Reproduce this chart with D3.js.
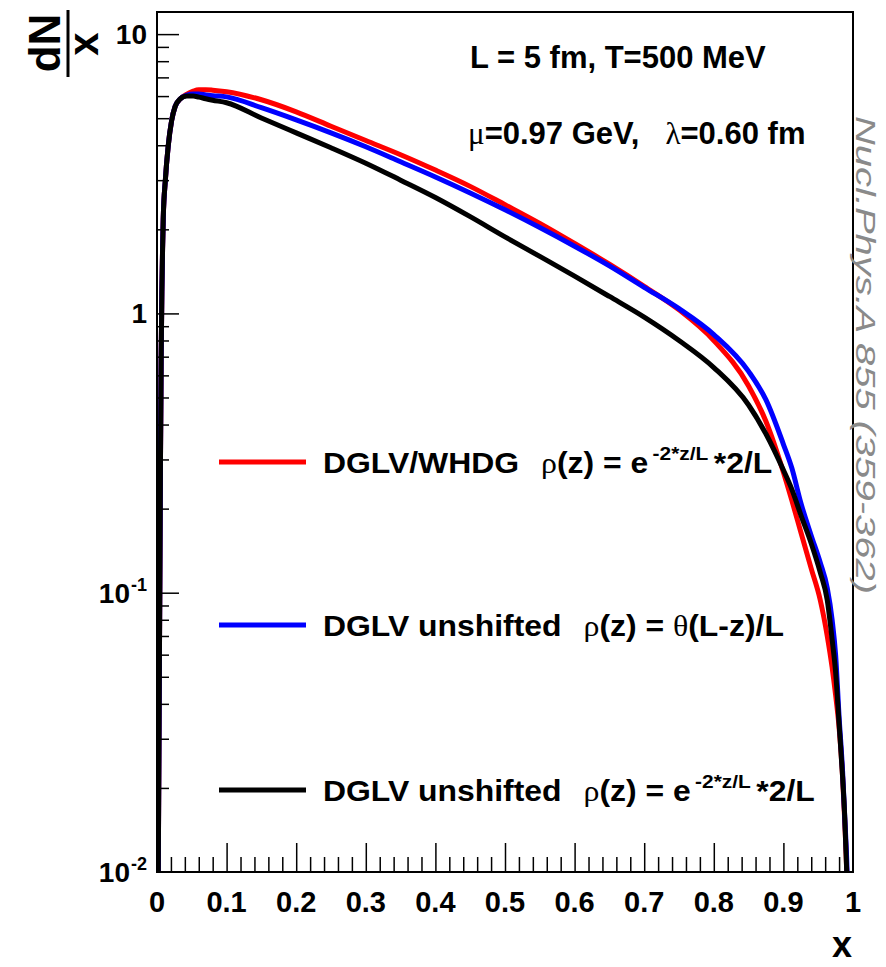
<!DOCTYPE html>
<html>
<head>
<meta charset="utf-8">
<script src="https://cdn.jsdelivr.net/npm/d3@7"></script>
<style>
  body { margin: 0; background: #fff; }
  svg { display: block; }
  text { font-family: "Liberation Sans", Arial, sans-serif; }
</style>
</head>
<body>
<div id="chart"></div>
<script>
// x grid shared by the three histograms
const xGrid = [0.001, 0.002, 0.003, 0.004, 0.005, 0.006, 0.007, 0.008, 0.009, 0.012, 0.016, 0.021, 0.026, 0.033,
  0.043, 0.052, 0.06, 0.07, 0.08, 0.1, 0.15, 0.2, 0.25, 0.3, 0.35, 0.4, 0.45, 0.5, 0.55, 0.6, 0.65, 0.7, 0.75,
  0.8, 0.85, 0.875, 0.9, 0.912, 0.925, 0.94, 0.953, 0.963, 0.97, 0.975, 0.98, 0.985, 0.988, 0.991, 0.994];

// DGLV/WHDG  rho(z) = exp(-2z/L)*2/L
const redValues = [0.004, 0.012, 0.035, 0.1, 0.3, 0.7, 1.2, 1.7, 2.2, 3.0, 3.95, 4.9, 5.5, 5.85,
  6.1, 6.25, 6.32, 6.32, 6.3, 6.22, 5.82, 5.27, 4.68, 4.16, 3.7, 3.26, 2.85, 2.45, 2.1, 1.78, 1.5, 1.25, 1.03,
  0.8, 0.55, 0.41, 0.27, 0.2145, 0.165, 0.122, 0.094, 0.07, 0.054, 0.043, 0.033, 0.022, 0.0155, 0.01, 0.005];

// DGLV unshifted  rho(z) = theta(L-z)/L
const blueValues = [0.004, 0.012, 0.035, 0.1, 0.3, 0.7, 1.2, 1.7, 2.2, 3.0, 3.95, 4.9, 5.5, 5.85,
  6.05, 6.1, 6.1, 6.06, 6.02, 5.96, 5.45, 4.93, 4.43, 3.95, 3.49, 3.08, 2.7, 2.35, 2.03, 1.74, 1.48, 1.24, 1.04,
  0.84, 0.62, 0.49, 0.34, 0.28, 0.21, 0.16, 0.128, 0.104, 0.08, 0.06, 0.036, 0.023, 0.016, 0.011, 0.006];

// DGLV unshifted  rho(z) = exp(-2z/L)*2/L
const blackValues = [0.004, 0.012, 0.035, 0.1, 0.3, 0.7, 1.2, 1.7, 2.2, 3.0, 3.95, 4.9, 5.5, 5.85,
  6.0, 6.0, 5.95, 5.87, 5.8, 5.68, 5.01, 4.43, 3.92, 3.45, 3.0, 2.6, 2.22, 1.88, 1.6, 1.36, 1.15, 0.97, 0.8,
  0.64, 0.47, 0.37, 0.275, 0.235, 0.19, 0.15, 0.118, 0.094, 0.068, 0.052, 0.034, 0.022, 0.016, 0.01, 0.005];

const seriesColors = ['#ff0000', '#0000ff', '#000000'];
const xTickValues = [0, 0.1, 0.2, 0.3, 0.4, 0.5, 0.6, 0.7, 0.8, 0.9, 1];
const xTickLabels = ['0', '0.1', '0.2', '0.3', '0.4', '0.5', '0.6', '0.7', '0.8', '0.9', '1'];
const yTickValues = [0.01, 0.1, 1, 10];
const yTickLabels = [['10', '-2'], ['10', '-1'], ['1', ''], ['10', '']];

// legend: pieces of each label (b = bold text, s = symbol, sup = superscript)
const legendLabels = [
  [['b', 'DGLV/WHDG'], ['s', 'ρ', 20], ['b', '(z) = e'], ['sup', '-2*z/L'], ['b', '*2/L']],
  [['b', 'DGLV unshifted'], ['s', 'ρ', 20], ['b', '(z) = '], ['s', 'θ'], ['b', '(L-z)/L']],
  [['b', 'DGLV unshifted'], ['s', 'ρ', 20], ['b', '(z) = e'], ['sup', '-2*z/L'], ['b', '*2/L']]
];

const W = 886, H = 967;
const svg = d3.select('#chart').append('svg')
  .attr('width', W)
  .attr('height', H);

const x = d3.scaleLinear().domain([0, 1]).range([157, 853]);
const y = d3.scaleLog().domain([0.01, 12]).range([872, 12]);

// clip for the curves
svg.append('defs').append('clipPath').attr('id', 'frame-clip')
  .append('rect')
  .attr('x', x(0)).attr('y', y(12))
  .attr('width', x(1) - x(0)).attr('height', y(0.01) - y(12));

// Courbes
const line = d3.line()
  .x(d => x(d[0]))
  .y(d => y(d[1]))
  .curve(d3.curveMonotoneX);

const curves = svg.append('g').attr('clip-path', 'url(#frame-clip)');
[redValues, blueValues, blackValues].forEach((vals, i) => {
  curves.append('path')
    .datum(xGrid.map((xv, j) => [xv, vals[j]]))
    .attr('d', line)
    .attr('fill', 'none')
    .attr('stroke', seriesColors[i])
    .attr('stroke-width', 5)
    .attr('stroke-linejoin', 'round');
});

// Cadre
svg.append('rect')
  .attr('x', x(0)).attr('y', y(12))
  .attr('width', x(1) - x(0)).attr('height', y(0.01) - y(12))
  .attr('fill', 'none')
  .attr('stroke', '#000')
  .attr('stroke-width', 2);

// Ticks (inward)
const xMinor = d3.range(0, 50).map(i => i * 0.02).filter(v => Math.round(v * 50) % 5 !== 0);
const yMinor = [];
[0.01, 0.1, 1].forEach(dec => d3.range(2, 10).forEach(m => yMinor.push(m * dec)));

function styleAxis(g) {
  g.select('.domain').remove();
  g.selectAll('line').attr('stroke', '#000').attr('stroke-width', 1.5);
  g.selectAll('text').remove();
}

svg.append('g')
  .attr('transform', `translate(0,${y(0.01)})`)
  .call(d3.axisTop(x).tickValues(xTickValues.slice(1, -1)).tickSize(29))
  .call(styleAxis);
svg.append('g')
  .attr('transform', `translate(0,${y(0.01)})`)
  .call(d3.axisTop(x).tickValues(xMinor).tickSize(15))
  .call(styleAxis);
svg.append('g')
  .attr('transform', `translate(${x(0)},0)`)
  .call(d3.axisRight(y).tickValues(yTickValues.slice(1)).tickSize(22))
  .call(styleAxis);
svg.append('g')
  .attr('transform', `translate(${x(0)},0)`)
  .call(d3.axisRight(y).tickValues(yMinor).tickSize(12))
  .call(styleAxis);

// Labels de l'axe X
svg.append('g').selectAll('text')
  .data(xTickValues)
  .join('text')
  .attr('x', d => x(d))
  .attr('y', 912)
  .attr('text-anchor', 'middle')
  .style('font-size', '29px')
  .style('font-weight', '700')
  .text((d, i) => xTickLabels[i]);

// Labels de l'axe Y
const yLab = svg.append('g').selectAll('text')
  .data(yTickValues)
  .join('text')
  .attr('x', 147)
  .attr('y', d => y(d) + 10)
  .attr('text-anchor', 'end')
  .style('font-size', '28px')
  .style('font-weight', '700');
yLab.append('tspan').text((d, i) => yTickLabels[i][0]);
yLab.filter((d, i) => yTickLabels[i][1] !== '')
  .append('tspan')
  .attr('dy', -12)
  .attr('dx', 1)
  .style('font-size', '18px')
  .text(d => yTickLabels[yTickValues.indexOf(d)][1]);

// Titre axe X
svg.append('text')
  .attr('x', 852)
  .attr('y', 957)
  .attr('text-anchor', 'end')
  .style('font-size', '36px')
  .style('font-weight', '700')
  .text('x');

// Titre axe Y : fraction dN / x, tournée
const frac = svg.append('g').attr('transform', 'translate(68,43) rotate(-90)');
frac.append('text')
  .attr('x', 0).attr('y', -8)
  .attr('text-anchor', 'middle')
  .style('font-size', '44px')
  .style('font-weight', '700')
  .text('dN');
frac.append('line')
  .attr('x1', -34).attr('x2', 33)
  .attr('y1', 0).attr('y2', 0)
  .attr('stroke', '#000').attr('stroke-width', 3);
frac.append('text')
  .attr('x', -1).attr('y', 30)
  .attr('text-anchor', 'middle')
  .style('font-size', '42px')
  .style('font-weight', '700')
  .text('x');

// Texte en haut à droite
svg.append('text')
  .attr('x', 470).attr('y', 68)
  .style('font-size', '31px')
  .style('font-weight', '700')
  .text('L = 5 fm, T=500 MeV');

const params = svg.append('text')
  .attr('x', 468).attr('y', 144)
  .style('font-size', '31px')
  .style('font-weight', '700');
params.append('tspan').style('font-family', '"Liberation Serif", serif').style('font-weight', '400').text('μ');
params.append('tspan').text('=0.97 GeV,');
params.append('tspan').attr('dx', 26).style('font-family', '"Liberation Serif", serif').style('font-weight', '400').text('λ');
params.append('tspan').text('=0.60 fm');

// Légende
const legendY = [462, 625, 790];
legendLabels.forEach((parts, i) => {
  svg.append('line')
    .attr('x1', 219).attr('x2', 306)
    .attr('y1', legendY[i]).attr('y2', legendY[i])
    .attr('stroke', seriesColors[i])
    .attr('stroke-width', 5);

  const t = svg.append('text')
    .attr('transform', `translate(323,${legendY[i] + 11}) scale(1.1,1)`)
    .style('font-size', '29px')
    .style('font-weight', '700');

  let raised = false;
  parts.forEach(([kind, str, gap]) => {
    const sp = t.append('tspan').text(str);
    if (gap) sp.attr('dx', gap);
    if (kind === 's') {
      sp.style('font-family', '"Liberation Serif", serif').style('font-weight', '400');
    }
    if (kind === 'sup') {
      sp.attr('dy', -13).attr('dx', 4).style('font-size', '19px');
      raised = true;
    } else if (raised) {
      sp.attr('dy', 13).attr('dx', 5);
      raised = false;
    }
  });
});

// Référence (texte vertical à droite)
svg.append('text')
  .attr('transform', 'translate(856,116) rotate(90)')
  .attr('textLength', 478)
  .attr('lengthAdjust', 'spacingAndGlyphs')
  .style('font-size', '28px')
  .style('font-style', 'italic')
  .style('fill', '#8a8a8a')
  .text('Nucl.Phys.A 855 (359-362)');
</script>
</body>
</html>
